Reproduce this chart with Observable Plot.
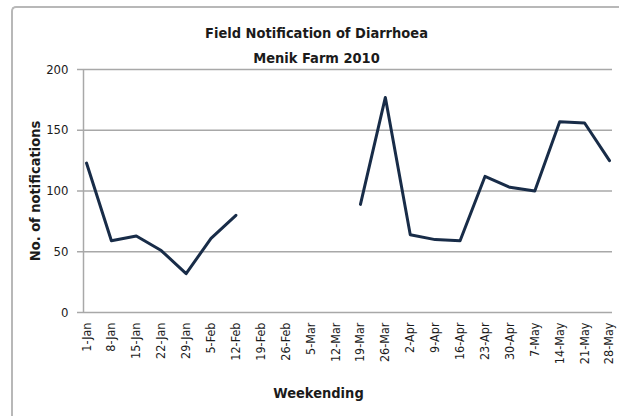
<!DOCTYPE html>
<html><head><meta charset="utf-8">
<script src="https://cdn.jsdelivr.net/npm/d3@7"></script>
<script src="https://cdn.jsdelivr.net/npm/@observablehq/plot@0.6"></script>
<style>
body{margin:0;background:#fff;}
#wrap{position:relative;width:619px;height:416px;overflow:hidden;}
#border{position:absolute;left:11px;top:6px;width:700px;height:500px;border-left:2px solid #b8b8b8;border-top:2px solid #b8b8b8;border-radius:5px 0 0 0;}
#wrap svg{position:absolute;left:0;top:0;}
</style></head><body><div id="wrap"><div id="border"></div></div>
<script>
const weeks = ["1-Jan","8-Jan","15-Jan","22-Jan","29-Jan","5-Feb","12-Feb","19-Feb","26-Feb","5-Mar","12-Mar","19-Mar","26-Mar","2-Apr","9-Apr","16-Apr","23-Apr","30-Apr","7-May","14-May","21-May","28-May"];
const notifications = [123,59,63,51,32,61,80,null,null,null,null,89,177,64,60,59,112,103,100,157,156,125];
const yTicks = [0,50,100,150,200];
const titleLines = ["Field Notification of Diarrhoea","Menik Farm 2010"];
const yLabel = "No. of notifications";
const xLabel = "Weekending";

const data = weeks.map((w,i)=>({i, week:w, n: notifications[i]}));
const font = "'DejaVu Sans Condensed',sans-serif";
const nW = weeks.length;
const pad = 3/24.9;
const grid = "#a8a8a8";

const chart = Plot.plot({
  width:619, height:416, marginLeft:83, marginRight:7, marginTop:69, marginBottom:104,
  style:{fontFamily:font, background:"transparent", color:"#1b1b1b"},
  x:{domain:[-pad, nW-1+pad]},
  y:{domain:[0,200]},
  marks:[
    Plot.ruleY(yTicks, {stroke:grid, strokeWidth:1.5}),
    Plot.ruleX([-pad], {stroke:grid, strokeWidth:1.5}),
    Plot.axisY({ticks:yTicks, tickSize:6, tickPadding:9, fontSize:13, label:null, stroke:grid, strokeWidth:1.5}),
    Plot.axisX({ticks:d3.range(nW), tickFormat:i=>weeks[i], tickSize:0, tickPadding:10, tickRotate:-90, fontSize:12.5, label:null}),
    Plot.line(data, {x:"i", y:"n", stroke:"#182c48", strokeWidth:3, strokeLinejoin:"round"}),
    Plot.text([titleLines[0]], {text:d=>d, frameAnchor:"top", dx:-31.5, dy:-42, fontSize:14.5, fontWeight:"bold"}),
    Plot.text([titleLines[1]], {text:d=>d, frameAnchor:"top", dx:-31.5, dy:-17, fontSize:14.5, fontWeight:"bold"}),
    Plot.text([yLabel], {text:d=>d, frameAnchor:"left", textAnchor:"middle", dx:-48, rotate:-90, fontSize:14.5, fontWeight:"bold"}),
    Plot.text([xLabel], {text:d=>d, frameAnchor:"bottom", dx:-29.5, dy:85, fontSize:14.5, fontWeight:"bold"})
  ]
});
document.getElementById("wrap").appendChild(chart);
</script></body></html>
